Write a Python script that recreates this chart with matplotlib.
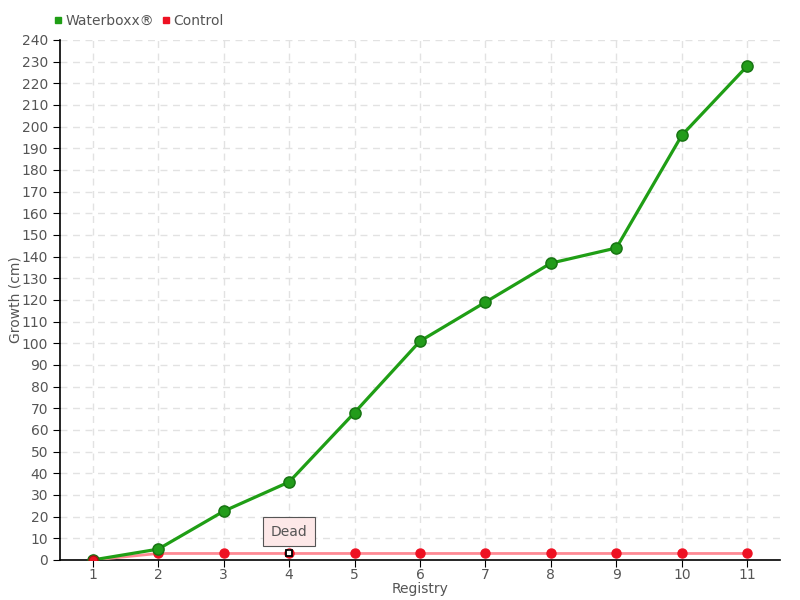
import matplotlib
matplotlib.use("Agg")
import matplotlib.pyplot as plt
from matplotlib.lines import Line2D

registry = [1, 2, 3, 4, 5, 6, 7, 8, 9, 10, 11]
waterboxx = [0, 5, 22.5, 36, 68, 101, 119, 137, 144, 196, 228]
control = [0, 3, 3, 3, 3, 3, 3, 3, 3, 3, 3]
yticks = list(range(0, 241, 10))

txt = '#555555'
plt.rcParams['font.family'] = ['DejaVu Sans']

fig = plt.figure(figsize=(8, 6), dpi=100)
ax = fig.add_axes([0.075, 0.0667, 0.9, 0.8667])

ax.plot(registry, control, color='#ff8a94', lw=2, zorder=3)
ax.plot(registry, control, 'o', color='#ee1122', ms=6.5, mec='#ee1122', zorder=4, linestyle='none')
ax.plot(registry, waterboxx, color='#1f9e15', lw=2.3, zorder=5,
        marker='o', ms=8, mfc='#229c1a', mec='#177512', mew=1.1)
# first control point on top
ax.plot(registry[0], control[0], 'o', color='#ee1122', ms=6.5, mec='#aa1010', zorder=6)
# dead marker at registry 4
ax.plot(registry[3], control[3], 's', ms=4.5, mfc='white', mec='black', mew=1.3, zorder=7)
ax.annotate('Dead', xy=(registry[3], control[3]), xytext=(registry[3], 13),
            ha='center', va='center', fontsize=10, color=txt, zorder=8,
            bbox=dict(boxstyle='square,pad=0.55', fc='#fde8e8', ec='#555555', lw=0.8),
            arrowprops=dict(arrowstyle='-', color='#555555', lw=0.6))

ax.set_xlim(0.5, 11.5)
ax.set_ylim(0, 240)
ax.set_xticks(registry)
ax.set_yticks(yticks)
ax.tick_params(axis='both', colors='black', labelcolor=txt, labelsize=10, length=5, direction='out')
ax.tick_params(axis='x', pad=0.5)
ax.grid(True, color='#e2e2e2', linestyle=(0, (5, 4)), lw=1)
ax.set_axisbelow(True)
for s in ['top', 'right']:
    ax.spines[s].set_visible(False)
ax.spines['left'].set_linewidth(1.2)
ax.spines['bottom'].set_linewidth(1.2)
ax.set_xlabel('Registry', color=txt, fontsize=10)
ax.set_ylabel('Growth (cm)', color=txt, fontsize=10)
ax.xaxis.set_label_coords(0.5, -0.043)
ax.yaxis.set_label_coords(-0.052, 0.5)

handles = [Line2D([], [], marker='s', color='none', mfc='#1f9e15', mec='#1f9e15', ms=5),
           Line2D([], [], marker='s', color='none', mfc='#ee1122', mec='#ee1122', ms=5)]
fig.legend(handles, ['Waterboxx®', 'Control'], loc='upper left', bbox_to_anchor=(0.052, 0.997),
           ncol=2, frameon=False, fontsize=10, labelcolor=txt, handlelength=0.6,
           handletextpad=0.2, columnspacing=0.6)

fig.savefig('out.png', dpi=100)
